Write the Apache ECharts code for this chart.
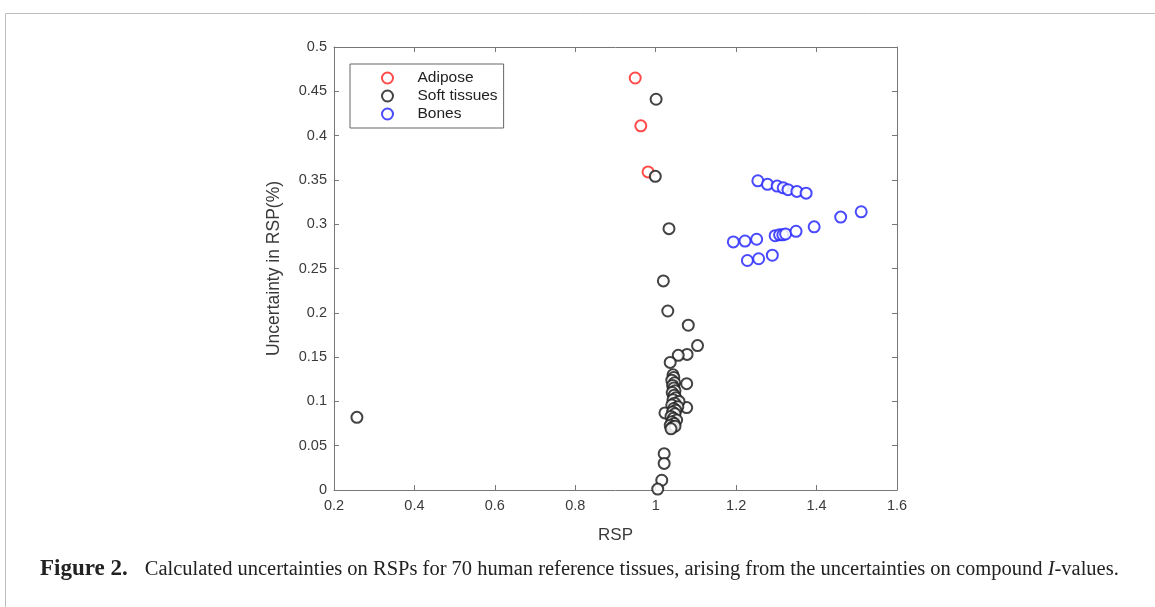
<!DOCTYPE html>
<html>
<head>
<meta charset="utf-8">
<script src="https://cdn.jsdelivr.net/npm/echarts@6/dist/echarts.min.js"></script>
<style>
html,body{margin:0;padding:0;background:#fff;}
#c{width:1155px;height:607px;}
</style>
</head>
<body>
<div id="c"></div>
<script>
// Data (RSP, uncertainty %)
var adipose = [[0.949,0.465],[0.963,0.411],[0.981,0.359]];
var softTissues = [
  [1.001,0.441],[0.999,0.354],[1.033,0.295],[1.019,0.236],[1.030,0.202],[1.081,0.186],
  [1.104,0.163],[1.078,0.153],[1.056,0.152],[1.036,0.144],[1.077,0.120],[1.077,0.093],
  [1.023,0.087],[1.021,0.041],[1.021,0.030],[1.015,0.011],[1.005,0.001],[0.257,0.082],
  [1.043,0.130],[1.045,0.127],[1.040,0.124],[1.047,0.121],[1.042,0.118],[1.045,0.115],
  [1.048,0.112],[1.041,0.110],[1.046,0.107],[1.050,0.104],[1.043,0.102],[1.058,0.100],
  [1.047,0.098],[1.040,0.096],[1.055,0.094],[1.045,0.092],[1.050,0.090],[1.042,0.088],
  [1.048,0.086],[1.038,0.083],[1.044,0.081],[1.052,0.079],[1.040,0.077],[1.046,0.075],
  [1.036,0.073],[1.042,0.071],[1.048,0.072],[1.038,0.069]
];
var bones = [
  [1.254,0.349],[1.278,0.345],[1.302,0.343],[1.317,0.341],[1.329,0.339],[1.351,0.337],[1.374,0.335],
  [1.193,0.280],[1.222,0.281],[1.251,0.283],[1.297,0.287],[1.308,0.288],[1.316,0.288],[1.323,0.289],
  [1.349,0.292],[1.394,0.297],[1.460,0.308],[1.511,0.314],
  [1.228,0.259],[1.256,0.261],[1.290,0.265]
];
var seriesNames = ['Adipose','Soft tissues','Bones'];
var xTitle = 'RSP';
var yTitle = 'Uncertainty in RSP(%)';
var caption = 'Calculated uncertainties on RSPs for 70 human reference tissues, arising from the uncertainties on compound ';

var FONT = '"Liberation Sans", Arial, sans-serif';
var axisCol = '#777';
function mkX(pos, show){
  return {type:'value', position:pos, min:0.2, max:1.6, interval:0.2,
    axisLine:{show:true,onZero:false,lineStyle:{color:axisCol,width:1}},
    axisTick:{show:true,inside:true,length:5,lineStyle:{color:axisCol}},
    splitLine:{show:false},
    axisLabel:{show:show,color:'#3a3a3a',fontFamily:FONT,fontSize:14.5,margin:8},
    name: show?xTitle:'', nameLocation:'middle', nameGap:37,
    nameTextStyle:{color:'#3a3a3a',fontFamily:FONT,fontSize:17}};
}
function mkY(pos, show){
  return {type:'value', position:pos, min:0, max:0.5, interval:0.05,
    axisLine:{show:true,onZero:false,lineStyle:{color:axisCol,width:1}},
    axisTick:{show:true,inside:true,length:5,lineStyle:{color:axisCol}},
    splitLine:{show:false},
    axisLabel:{show:show,color:'#3a3a3a',fontFamily:FONT,fontSize:14.5,margin:7},
    name: show?yTitle:'', nameLocation:'middle', nameGap:51,
    nameTextStyle:{color:'#3a3a3a',fontFamily:FONT,fontSize:17.5}};
}
function mkS(name, data, color){
  return {name:name, type:'scatter', data:data, xAxisIndex:0, yAxisIndex:0,
    symbol:'emptyCircle', symbolSize:11,
    itemStyle:{color:color, borderColor:color, borderWidth:1.3, opacity:0.85},
    emphasis:{disabled:true}};
}
var chart = echarts.init(document.getElementById('c'), null, {renderer:'canvas'});
chart.setOption({
  animation:false,
  backgroundColor:'#fff',
  grid:{left:334, right:258, top:47, bottom:117, containLabel:false},
  xAxis:[mkX('bottom',true), mkX('top',false)],
  yAxis:[mkY('left',true), mkY('right',false)],
  legend:{
    show:true, orient:'vertical', left:350, top:64,
    data:seriesNames,
    itemWidth:50, itemHeight:11, itemGap:2,
    padding:[6,6,6,31],
    borderColor:'#666', borderWidth:1, backgroundColor:'#fff',
    textStyle:{color:'#222',fontFamily:FONT,fontSize:15.5}
  },
  series:[mkS(seriesNames[0],adipose,'#ff2a2a'), mkS(seriesNames[1],softTissues,'#222'), mkS(seriesNames[2],bones,'#2a2aff')],
  graphic:[
    {type:'line', shape:{x1:5.5,y1:13.5,x2:1155,y2:13.5}, style:{stroke:'#bdbdbd',lineWidth:1}},
    {type:'line', shape:{x1:5.5,y1:13.5,x2:5.5,y2:607}, style:{stroke:'#bdbdbd',lineWidth:1}},
    {type:'text', left:40, top:558, style:{
      text:'{b|Figure 2.}{n|'+caption+'}{i|I}{n|-values.}',
      rich:{
        b:{fontFamily:'"Liberation Serif", serif', fontWeight:'bold', fontSize:23, fill:'#222', padding:[0,17,0,0]},
        n:{fontFamily:'"Liberation Serif", serif', fontSize:20.5, fill:'#222'},
        i:{fontFamily:'"Liberation Serif", serif', fontStyle:'italic', fontSize:20.5, fill:'#222'}
      }
    }}
  ]
});
</script>
</body>
</html>
